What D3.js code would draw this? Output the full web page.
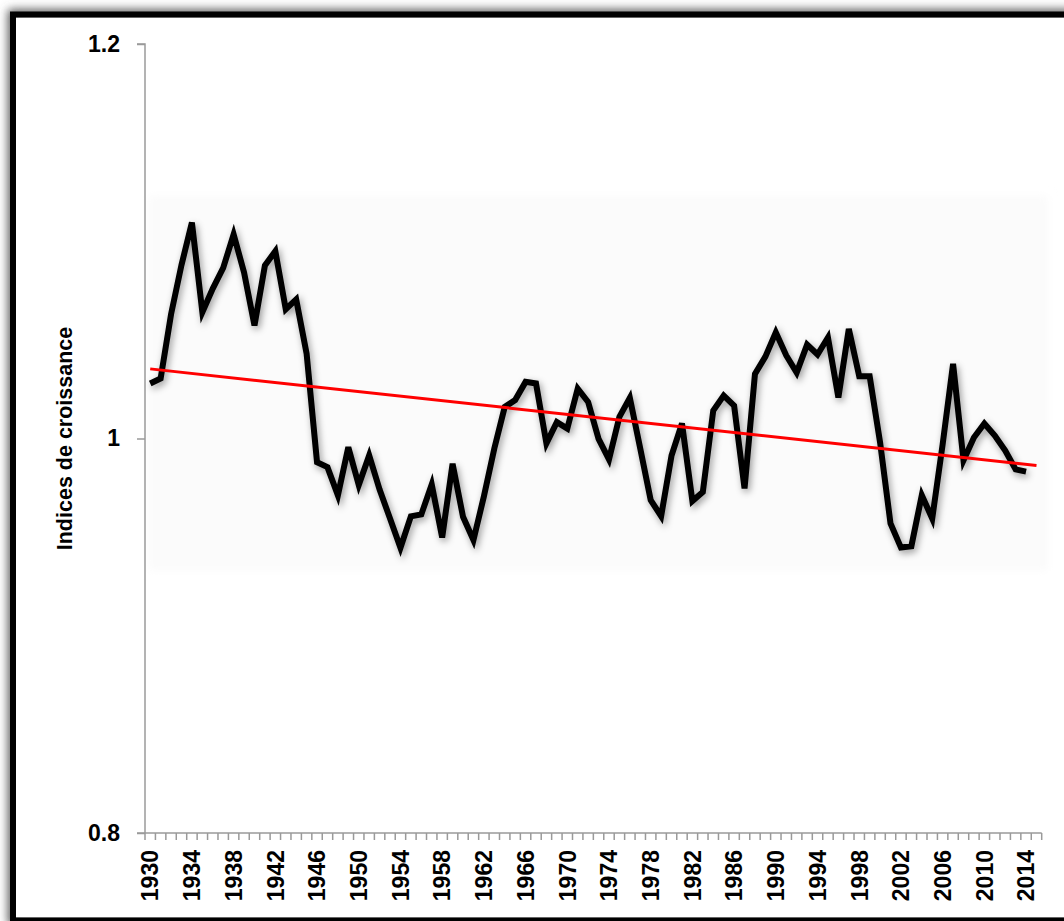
<!DOCTYPE html>
<html>
<head>
<meta charset="utf-8">
<script src="https://cdn.jsdelivr.net/npm/d3@7"></script>
<style>
  html, body { margin: 0; padding: 0; background: #fff; }
  svg { display: block; }
</style>
</head>
<body>
<script>
// ---- data ----
const axisYears = d3.range(1930, 2016); // category axis 1930..2015
const years = d3.range(1930, 2015);     // data years 1930..2014
const values = [
  1.0279, 1.0304, 1.0630, 1.0880, 1.1095, 1.0640, 1.0760, 1.0865, 1.1035, 1.0842,
  1.0573, 1.0877, 1.0950, 1.0655, 1.0705, 1.0430, 0.9880, 0.9855, 0.9712, 0.9956,
  0.9764, 0.9914, 0.9741, 0.9594, 0.9446, 0.9605, 0.9615, 0.9767, 0.9498, 0.9872,
  0.9603, 0.9485, 0.9706, 0.9949, 1.0160, 1.0195, 1.0287, 1.0279, 0.9975, 1.0083,
  1.0050, 1.0253, 1.0185, 0.9998, 0.9894, 1.0110, 1.0206, 0.9949, 0.9688, 0.9606,
  0.9914, 1.0077, 0.9683, 0.9729, 1.0142, 1.0218, 1.0167, 0.9747, 1.0327, 1.0415,
  1.0538, 1.0421, 1.0334, 1.0476, 1.0426, 1.0512, 1.0208, 1.0556, 1.0316, 1.0316,
  0.9980, 0.9569, 0.9447, 0.9454, 0.9712, 0.9594, 0.9970, 1.0378, 0.9889, 1.0005,
  1.0076, 1.0015, 0.9939, 0.9843, 0.9832
];
const trendYears = [1930, 2015];
const trendValues = [1.0353, 0.9863];
const yTicks = [0.8, 1.0, 1.2];
const yTickLabels = ["0.8", "1", "1.2"];
const xLabelYears = d3.range(1930, 2016, 4);
const yTitle = "Indices de croissance";

// ---- layout ----
const W = 1064, H = 921;
const FONT = "'Liberation Sans', Arial, sans-serif";
const svg = d3.select("body").append("svg").attr("width", W).attr("height", H);

const defs = svg.append("defs");
const fr = defs.append("filter").attr("id", "frameShadow")
  .attr("x", "-5%").attr("y", "-5%").attr("width", "110%").attr("height", "110%");
fr.append("feGaussianBlur").attr("stdDeviation", 5);

const ls = defs.append("filter").attr("id", "lineShadow")
  .attr("x", "-10%").attr("y", "-20%").attr("width", "120%").attr("height", "140%");
ls.append("feDropShadow").attr("dx", 2).attr("dy", 3).attr("stdDeviation", 3.5)
  .attr("flood-color", "#000").attr("flood-opacity", 0.4);

const fw = defs.append("filter").attr("id", "soft");
fw.append("feGaussianBlur").attr("stdDeviation", 4);

// outer frame with shadow
svg.append("rect").attr("x", 13).attr("y", 14.5).attr("width", 1075).attr("height", 906)
  .attr("fill", "none").attr("stroke", "#555").attr("stroke-width", 10)
  .attr("filter", "url(#frameShadow)");
svg.append("rect").attr("x", 16).attr("y", 17.5).attr("width", 1070).attr("height", 900)
  .attr("fill", "#fff");
svg.append("rect").attr("x", 13).attr("y", 14.5).attr("width", 1075).attr("height", 906)
  .attr("fill", "none").attr("stroke", "#000").attr("stroke-width", 6);

const x = d3.scaleBand().domain(axisYears).range([145, 1041.7]).padding(0);
const y = d3.scaleLinear().domain([0.8, 1.2]).range([833, 44]);
const cx = d => x(d) + x.bandwidth() / 2;

// faint shaded region produced by the shadow effect
const yMax = d3.max(values), yMin = d3.min(values);
svg.append("rect")
  .attr("x", cx(1930) - 2).attr("y", y(yMax) - 27)
  .attr("width", cx(2015) - cx(1930) + 14).attr("height", y(yMin) - y(yMax) + 50)
  .attr("fill", "#fbfbfb").attr("filter", "url(#soft)");

// y axis
const yAxis = d3.axisLeft(y).tickValues(yTicks).tickFormat((d, i) => yTickLabels[i])
  .tickSize(8).tickPadding(17);
const gy = svg.append("g").attr("transform", "translate(145,0)").call(yAxis);
gy.select(".domain").attr("stroke", "#9a9a9a").attr("stroke-width", 1.5)
  .attr("d", `M-8,${y(1.2)}H0V${y(0.8)}`);
gy.selectAll(".tick line").attr("stroke", "#9a9a9a").attr("stroke-width", 1.5);
gy.selectAll(".tick text").attr("font-family", FONT)
  .attr("font-weight", "bold").attr("font-size", 23).attr("fill", "#000");

// x axis
const gx = svg.append("g").attr("transform", `translate(0,${y(0.8)})`);
gx.append("line").attr("x1", 137).attr("x2", x.range()[1])
  .attr("stroke", "#9a9a9a").attr("stroke-width", 1.5);
gx.selectAll("line.tk").data(axisYears.concat([null])).enter().append("line")
  .attr("class", "tk")
  .attr("x1", (d, i) => x.range()[0] + i * x.bandwidth())
  .attr("x2", (d, i) => x.range()[0] + i * x.bandwidth())
  .attr("y1", 0).attr("y2", 7)
  .attr("stroke", "#9a9a9a").attr("stroke-width", 1.5);
gx.selectAll("text").data(xLabelYears).enter().append("text")
  .attr("transform", d => `translate(${cx(d)},17) rotate(-90)`)
  .attr("text-anchor", "end").attr("dy", "0.36em")
  .attr("font-family", FONT)
  .attr("font-weight", "bold").attr("font-size", 23).attr("fill", "#000")
  .text(d => d);

// y title
svg.append("text")
  .attr("transform", `translate(64,${y(1.0)}) rotate(-90)`)
  .attr("text-anchor", "middle").attr("dy", "0.36em")
  .attr("font-family", FONT)
  .attr("font-weight", "bold").attr("font-size", 21.5).attr("fill", "#000")
  .text(yTitle);

// data line
const line = d3.line().x(d => cx(d[0])).y(d => y(d[1]));
svg.append("path")
  .datum(years.map((yr, i) => [yr, values[i]]))
  .attr("d", line)
  .attr("fill", "none").attr("stroke", "#000").attr("stroke-width", 6)
  .attr("stroke-linejoin", "miter").attr("stroke-miterlimit", 4)
  .attr("filter", "url(#lineShadow)");

// trend line
svg.append("path")
  .datum(trendYears.map((yr, i) => [yr, trendValues[i]]))
  .attr("d", line)
  .attr("fill", "none").attr("stroke", "#ff0000").attr("stroke-width", 3);
</script>
</body>
</html>
